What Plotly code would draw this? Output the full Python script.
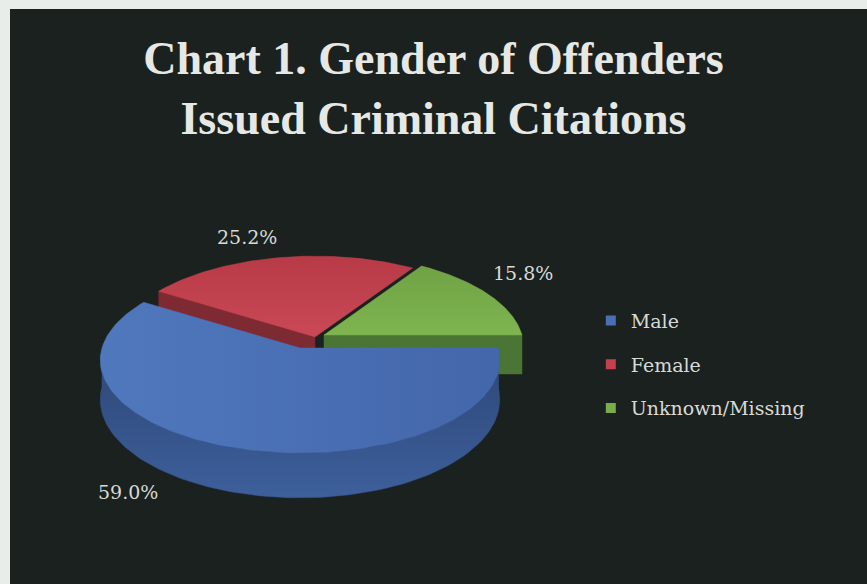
import math
import plotly.graph_objects as go

# ---------------- data ----------------
categories = ["Male", "Female", "Unknown/Missing"]
values = [59.0, 25.2, 15.8]
label_text = ["59.0%", "25.2%", "15.8%"]

# ---------------- style ----------------
W, H = 867, 584
BG = "#1b211e"
top_colors = {"Male": "#4a6fb4", "Female": "#c4404c", "Unknown/Missing": "#78ad4a"}
top_grad = {"Male": ("horizontal", "#5078bd", "#4466aa"),
            "Female": ("vertical", "#c94a56", "#b83a46"),
            "Unknown/Missing": ("vertical", "#7fb550", "#6fa244")}
side_colors = {"Male": "#34558e", "Female": "#7e2a33", "Unknown/Missing": "#4a7534"}
side_grad = {"Male": ("vertical", "#3d5f9b", "#2d4777"),
             "Female": ("vertical", "#86303a", "#6e242c"),
             "Unknown/Missing": ("vertical", "#4f7c38", "#3e652b")}
# screen offsets (explosion) per slice
offsets = {"Male": (0, 0), "Female": (15, -11), "Unknown/Missing": (24, -13)}
label_pos = {"Male": (128, 492), "Female": (247, 237), "Unknown/Missing": (523, 273)}

CX, CY = 300, 348
RX, RY = 198, 91.35
P = 0.13          # perspective strength
THICK = 39

def proj(theta_deg, r=1.0, drop=0.0, off=(0, 0)):
    t = math.radians(theta_deg)
    X, Z = r * math.cos(t), r * math.sin(t)
    f = 1.0 / (1.0 + P * Z)
    return (CX + off[0] + RX * X * f, CY + off[1] - RY * Z * f + drop * f)

# CCW order starting at 0 deg: Unknown, Female, Male
order = ["Unknown/Missing", "Female", "Male"]
total = sum(values)
vals = dict(zip(categories, values))
angles = {}
a = 0.0
for c in order:
    span = vals[c] / total * 360.0
    angles[c] = (a, a + span)
    a += span

fig = go.Figure()

def arc(c, a0, a1, drop=0.0, n=120):
    pts = []
    for i in range(n + 1):
        th = a0 + (a1 - a0) * i / n
        pts.append(proj(th, 1.0, drop, offsets[c]))
    return pts

def add_poly(pts, color, grad=None):
    xs = [p[0] for p in pts] + [pts[0][0]]
    ys = [p[1] for p in pts] + [pts[0][1]]
    kw = {}
    if grad is not None:
        kind, c1, c2 = grad
        kw["fillgradient"] = dict(type=kind, colorscale=[[0, c1], [1, c2]])
    fig.add_trace(go.Scatter(x=xs, y=ys, mode="lines", fill="toself",
                             fillcolor=color, line=dict(width=0.5, color=color),
                             hoverinfo="skip", showlegend=False, **kw))

# draw back to front: Female, Unknown, Male
for c in ["Female", "Unknown/Missing", "Male"]:
    a0, a1 = angles[c]
    off = offsets[c]
    apex_top = proj(0, 0.0, 0.0, off)
    apex_bot = proj(0, 0.0, THICK, off)
    # radial side faces visible to the viewer
    if c == "Female":
        rim_t = proj(a1, 1.0, 0.0, off)
        rim_b = proj(a1, 1.0, THICK, off)
        add_poly([apex_top, rim_t, rim_b, apex_bot], side_colors[c])
    if c == "Unknown/Missing":
        rim_t = proj(a0, 1.0, 0.0, off)
        rim_b = proj(a0, 1.0, THICK, off)
        add_poly([apex_top, rim_t, rim_b, apex_bot], side_colors[c])
    # outer side (front half only)
    s0, s1 = max(a0, 180.0), min(a1, 360.0)
    if s1 > s0:
        top = arc(c, s0, s1)
        bot = arc(c, s1, s0, THICK)
        add_poly(top + bot, side_colors[c], side_grad[c])
    # top face
    add_poly([apex_top] + arc(c, a0, a1), top_colors[c], top_grad[c])

# percentage labels
for c, t in zip(categories, label_text):
    x, y = label_pos[c]
    fig.add_annotation(x=x, y=y, text=t, showarrow=False,
                       font=dict(family="DejaVu Serif", size=19, color="#d8dad8"))

# legend entries
for c in categories:
    fig.add_trace(go.Scatter(x=[None], y=[None], mode="markers", name=c,
                             legendgroup=c,
                             marker=dict(symbol="square", size=10, color=top_colors[c])))

fig.update_layout(
    width=W, height=H,
    margin=dict(l=0, r=0, t=0, b=0),
    paper_bgcolor="#e9ede9",
    plot_bgcolor=BG,
    title=dict(text="<b>Chart 1. Gender of Offenders<br>Issued Criminal Citations</b>",
               x=0.5, xanchor="center", y=1 - 74 / H, yanchor="top",
               font=dict(family="Liberation Serif", size=46, color="#e6e8e6")),
    xaxis=dict(range=[10, W], visible=False, fixedrange=True, domain=[10 / W, 1]),
    yaxis=dict(range=[H, 9], visible=False, fixedrange=True, domain=[0, 1 - 9 / H]),
    legend=dict(x=(594 - 10) / (W - 10), y=1 - (306 - 9) / (H - 9), xanchor="left", yanchor="top",
                bgcolor="rgba(0,0,0,0)", tracegroupgap=16,
                font=dict(family="DejaVu Serif", size=19, color="#d8dad8")),
    showlegend=True,
)

fig.write_html("out.html")
